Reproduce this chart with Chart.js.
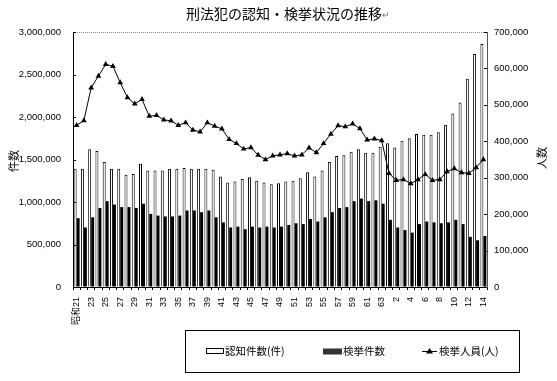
<!DOCTYPE html>
<html>
<head>
<meta charset="utf-8">
<script src="https://cdn.jsdelivr.net/npm/chart.js@4/dist/chart.umd.min.js"></script>
<style>
  html, body { margin: 0; padding: 0; background: #fff; }
  canvas { display: block; }
</style>
</head>
<body>
<canvas id="crimeChart" width="557" height="381"></canvas>
<script>
// 年次（昭和21年〜平成14年）
const years = [
  '昭和21','22','23','24','25','26','27','28','29','30',
  '31','32','33','34','35','36','37','38','39','40',
  '41','42','43','44','45','46','47','48','49','50',
  '51','52','53','54','55','56','57','58','59','60',
  '61','62','63','元','2','3','4','5','6','7',
  '8','9','10','11','12','13','14'
];

// 認知件数（件）
const ninchi = [
  1390000,1390000,1620000,1600000,1470000,1390000,1390000,1320000,1330000,1450000,
  1370000,1370000,1370000,1390000,1390000,1400000,1390000,1390000,1390000,1380000,
  1300000,1230000,1240000,1270000,1290000,1250000,1230000,1210000,1220000,1240000,
  1250000,1280000,1350000,1300000,1370000,1470000,1540000,1550000,1590000,1620000,
  1580000,1580000,1650000,1690000,1640000,1720000,1750000,1800000,1790000,1790000,
  1820000,1910000,2040000,2170000,2450000,2740000,2860000
];

// 検挙件数
const kenkyo = [
  810000,700000,820000,930000,1010000,970000,940000,940000,930000,980000,
  860000,840000,830000,830000,840000,900000,900000,880000,900000,820000,
  760000,700000,710000,680000,710000,700000,710000,700000,710000,730000,
  750000,740000,800000,770000,820000,880000,930000,940000,1010000,1040000,
  1010000,1020000,980000,790000,700000,670000,640000,740000,770000,760000,
  750000,760000,790000,740000,590000,550000,600000
];

// 検挙人員（人）
const jinin = [
  444000,457000,547000,579000,611000,606000,561000,520000,503000,515000,
  469000,471000,459000,456000,444000,451000,431000,426000,451000,442000,
  434000,405000,394000,379000,383000,362000,350000,360000,363000,366000,
  360000,363000,382000,369000,394000,420000,443000,440000,448000,435000,
  404000,407000,402000,312000,293000,295000,284000,295000,309000,293000,
  295000,317000,325000,314000,312000,328000,350000
];

const chartTitle = '刑法犯の認知・検挙状況の推移';
const leftTitle = '件数';
const rightTitle = '人数';

const numFont = "'Liberation Sans', 'Noto Sans CJK JP', sans-serif";
const jpFont = "'Noto Sans CJK JP', sans-serif";

// タイトル・軸タイトル・凡例・内向き目盛りを描くプラグイン
const decorPlugin = {
  id: 'decor',
  afterDatasetsDraw(chart) {
    const ctx = chart.ctx;
    const area = chart.chartArea;
    ctx.save();

    // 上枠（点線）
    ctx.strokeStyle = '#888';
    ctx.lineWidth = 1;
    ctx.setLineDash([1, 1]);
    ctx.beginPath();
    ctx.moveTo(area.left, area.top + 0.5);
    ctx.lineTo(area.right, area.top + 0.5);
    ctx.stroke();
    ctx.setLineDash([]);

    // 内向きの目盛り
    ctx.strokeStyle = '#000';
    const yl = chart.scales.y;
    yl.ticks.forEach(t => {
      const py = Math.round(yl.getPixelForValue(t.value)) + 0.5;
      ctx.beginPath();
      ctx.moveTo(area.left, py);
      ctx.lineTo(area.left + 3, py);
      ctx.stroke();
    });
    const yr = chart.scales.y1;
    yr.ticks.forEach(t => {
      const py = Math.round(yr.getPixelForValue(t.value)) + 0.5;
      ctx.beginPath();
      ctx.moveTo(area.right - 3, py);
      ctx.lineTo(area.right, py);
      ctx.stroke();
    });
    ctx.restore();
  },
  afterDraw(chart) {
    const ctx = chart.ctx;
    ctx.save();
    ctx.fillStyle = '#000';
    ctx.textBaseline = 'middle';

    // タイトル
    ctx.font = '14px ' + jpFont;
    ctx.textAlign = 'left';
    const tw = ctx.measureText(chartTitle).width;
    const tx = 284 - tw / 2;
    ctx.fillText(chartTitle, tx, 14);
    ctx.font = '9px ' + numFont;
    ctx.fillStyle = '#777';
    ctx.fillText('↵', tx + tw, 16);

    // 軸タイトル（縦書き風に回転）
    ctx.fillStyle = '#000';
    ctx.font = '11px ' + jpFont;
    ctx.textAlign = 'center';
    [[leftTitle, 14, 161], [rightTitle, 542, 158]].forEach(([txt, x, y]) => {
      ctx.save();
      ctx.translate(x, y);
      ctx.rotate(-Math.PI / 2);
      ctx.fillText(txt, 0, 0);
      ctx.restore();
    });

    // 凡例
    ctx.strokeStyle = '#000';
    ctx.lineWidth = 1;
    ctx.strokeRect(185.5, 330.5, 334, 42);
    const ly = 351;
    const ds = chart.data.datasets;
    ctx.font = '10.5px ' + jpFont;
    ctx.textAlign = 'left';

    // 認知件数
    ctx.fillStyle = '#fff';
    ctx.fillRect(206.5, ly - 2.5, 17, 5);
    ctx.strokeRect(206.5, ly - 2.5, 17, 5);
    ctx.fillStyle = '#000';
    ctx.fillText(ds[0].label, 225, ly);

    // 検挙件数
    ctx.fillStyle = '#333';
    ctx.fillRect(323, ly - 2.5, 19, 6);
    ctx.fillStyle = '#000';
    ctx.fillText(ds[1].label, 343, ly);

    // 検挙人員
    ctx.beginPath();
    ctx.moveTo(422, ly + 0.5);
    ctx.lineTo(437, ly + 0.5);
    ctx.stroke();
    ctx.beginPath();
    ctx.moveTo(429.5, ly - 3);
    ctx.lineTo(433, ly + 2.5);
    ctx.lineTo(426, ly + 2.5);
    ctx.closePath();
    ctx.fill();
    ctx.fillText(ds[2].label, 439, ly);

    ctx.restore();
  }
};

const ctx = document.getElementById('crimeChart').getContext('2d');
new Chart(ctx, {
  data: {
    labels: years,
    datasets: [
      {
        type: 'bar',
        label: '認知件数(件)',
        data: ninchi,
        backgroundColor: '#fff',
        borderColor: '#000',
        borderWidth: 1,
        yAxisID: 'y',
        categoryPercentage: 0.82,
        barPercentage: 1.0,
        order: 2
      },
      {
        type: 'bar',
        label: '検挙件数',
        data: kenkyo,
        backgroundColor: '#000',
        borderWidth: 0,
        yAxisID: 'y',
        categoryPercentage: 0.82,
        barPercentage: 1.0,
        order: 2
      },
      {
        type: 'line',
        label: '検挙人員(人)',
        data: jinin,
        borderColor: '#000',
        backgroundColor: '#000',
        borderWidth: 1,
        pointStyle: 'triangle',
        pointRadius: 3.3,
        pointBorderWidth: 0,
        tension: 0,
        yAxisID: 'y1',
        order: 1
      }
    ]
  },
  options: {
    responsive: false,
    animation: false,
    devicePixelRatio: 1,
    layout: {
      padding: { top: 32, left: 0, right: 0, bottom: 49 }
    },
    plugins: {
      legend: { display: false },
      title: { display: false },
      tooltip: { enabled: false }
    },
    scales: {
      x: {
        grid: {
          display: true,
          drawOnChartArea: false,
          drawTicks: true,
          tickLength: 3,
          color: '#000',
          offset: true
        },
        border: { color: '#000', width: 1 },
        ticks: {
          autoSkip: false,
          minRotation: 90,
          maxRotation: 90,
          padding: 7,
          color: '#000',
          font: { family: numFont, size: 9 },
          callback: function (value, index) {
            return index % 2 === 0 ? years[index] : '';
          }
        },
        afterFit: scale => { scale.height = 45; }
      },
      y: {
        position: 'left',
        min: 0,
        max: 3000000,
        grid: { display: true, drawOnChartArea: false, drawTicks: false },
        border: { color: '#000', width: 1 },
        ticks: {
          stepSize: 500000,
          padding: 12,
          color: '#000',
          font: { family: numFont, size: 9.5 },
          callback: v => v.toLocaleString('en-US')
        },
        afterFit: scale => { scale.width = 73; }
      },
      y1: {
        position: 'right',
        min: 0,
        max: 700000,
        grid: { display: true, drawOnChartArea: false, drawTicks: false },
        border: { color: '#555', width: 1 },
        ticks: {
          stepSize: 100000,
          padding: 7,
          color: '#000',
          font: { family: numFont, size: 9.5 },
          callback: v => v.toLocaleString('en-US')
        },
        afterFit: scale => { scale.width = 70; }
      }
    }
  },
  plugins: [decorPlugin]
});
</script>
</body>
</html>
